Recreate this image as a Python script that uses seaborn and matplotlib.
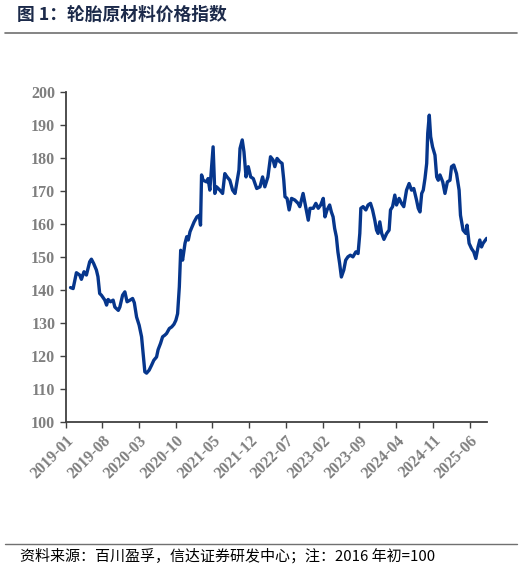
import pandas as pd
import matplotlib
matplotlib.use('Agg')
import matplotlib.pyplot as plt
import matplotlib.dates as mdates
import seaborn as sns

# 轮胎原材料价格指数 (2016年初=100)
dates = [
    '2019-01-29', '2019-02-13', '2019-03-04', '2019-03-23', '2019-04-02', '2019-04-17',
    '2019-05-01', '2019-05-20', '2019-05-30', '2019-06-12', '2019-06-28', '2019-07-07',
    '2019-07-17', '2019-07-27', '2019-08-16', '2019-08-26', '2019-09-04', '2019-09-18',
    '2019-10-03', '2019-10-13', '2019-11-02', '2019-11-11', '2019-11-27', '2019-12-10',
    '2019-12-23', '2020-01-09', '2020-01-24', '2020-02-03', '2020-02-16', '2020-03-02',
    '2020-03-16', '2020-03-25', '2020-04-04', '2020-04-14', '2020-04-29', '2020-05-13',
    '2020-05-26', '2020-06-11', '2020-06-20', '2020-07-04', '2020-07-16', '2020-07-29',
    '2020-08-08', '2020-08-24', '2020-09-07', '2020-09-20', '2020-10-01', '2020-10-11',
    '2020-10-21', '2020-10-29', '2020-11-09', '2020-11-23', '2020-12-03', '2020-12-12',
    '2020-12-22', '2021-01-15', '2021-01-31', '2021-02-14', '2021-02-21', '2021-02-27',
    '2021-03-08', '2021-03-28', '2021-04-06', '2021-04-16', '2021-05-05', '2021-05-15',
    '2021-05-25', '2021-06-13', '2021-06-29', '2021-07-12', '2021-07-25', '2021-08-10',
    '2021-08-26', '2021-09-09', '2021-10-02', '2021-10-08', '2021-10-21', '2021-10-31',
    '2021-11-12', '2021-11-25', '2021-12-09', '2021-12-24', '2022-01-13', '2022-02-01',
    '2022-02-16', '2022-03-01', '2022-03-19', '2022-04-03', '2022-04-18', '2022-04-28',
    '2022-05-11', '2022-05-27', '2022-06-09', '2022-06-19', '2022-06-26', '2022-07-08',
    '2022-07-20', '2022-08-03', '2022-08-22', '2022-09-10', '2022-09-20', '2022-10-09',
    '2022-11-08', '2022-11-18', '2022-12-07', '2022-12-22', '2023-01-05', '2023-01-19',
    '2023-02-03', '2023-02-13', '2023-02-25', '2023-03-12', '2023-03-22', '2023-04-01',
    '2023-04-10', '2023-04-20', '2023-04-29', '2023-05-09', '2023-05-19', '2023-06-02',
    '2023-06-13', '2023-06-26', '2023-07-10', '2023-07-25', '2023-08-11', '2023-08-24',
    '2023-09-03', '2023-09-09', '2023-09-22', '2023-10-08', '2023-10-21', '2023-11-04',
    '2023-11-16', '2023-11-29', '2023-12-09', '2023-12-18', '2023-12-28', '2024-01-08',
    '2024-01-21', '2024-02-06', '2024-02-20', '2024-02-28', '2024-03-11', '2024-03-24',
    '2024-04-03', '2024-04-18', '2024-05-02', '2024-05-15', '2024-05-31', '2024-06-15',
    '2024-06-29', '2024-07-12', '2024-07-28', '2024-08-07', '2024-08-17', '2024-08-27',
    '2024-09-05', '2024-09-15', '2024-09-25', '2024-10-01', '2024-10-10', '2024-10-18',
    '2024-10-29', '2024-11-12', '2024-11-22', '2024-12-01', '2024-12-11', '2024-12-27',
    '2025-01-09', '2025-01-23', '2025-02-07', '2025-02-16', '2025-03-01', '2025-03-17',
    '2025-04-01', '2025-04-09', '2025-04-24', '2025-05-10', '2025-05-17', '2025-05-29',
    '2025-06-12', '2025-06-25', '2025-07-07', '2025-07-20', '2025-07-30', '2025-08-09',
    '2025-08-18', '2025-09-08',
]
index_values = [
    140.7, 140.4, 145.2, 144.5, 143.2, 145.5,
    144.5, 148.5, 149.3, 148.0, 146.0, 144.0,
    138.9, 138.4, 136.9, 135.4, 137.1, 136.4,
    136.9, 134.8, 133.8, 134.8, 138.4, 139.4,
    136.4, 136.9, 137.4, 136.1, 131.8, 129.3,
    125.8, 120.7, 115.2, 114.8, 115.7, 117.2,
    118.7, 119.7, 121.9, 123.8, 125.8, 126.3,
    126.8, 128.3, 128.8, 129.6, 130.8, 132.8,
    140.9, 152.0, 149.0, 154.1, 156.1, 155.1,
    157.6, 160.6, 162.1, 162.6, 159.6, 174.8,
    173.2, 172.7, 173.7, 170.2, 183.3, 169.2,
    171.2, 170.2, 169.2, 175.2, 174.2, 173.2,
    170.2, 169.2, 176.3, 182.8, 185.4, 181.8,
    174.2, 177.3, 174.2, 173.7, 170.7, 171.2,
    174.2, 171.2, 174.2, 180.3, 179.3, 177.3,
    179.8, 178.8, 178.3, 173.2, 168.2, 167.7,
    164.2, 167.7, 167.2, 166.2, 165.2, 169.2,
    161.1, 164.7, 164.7, 166.2, 164.7, 165.7,
    167.7, 162.1, 164.2, 165.7, 163.6, 162.1,
    158.6, 156.1, 151.5, 148.0, 143.9, 146.0,
    149.0, 150.0, 150.5, 150.0, 151.5, 151.0,
    157.1, 164.7, 165.2, 164.2, 165.7, 166.2,
    164.2, 161.1, 158.1, 157.1, 160.6, 157.1,
    155.3, 157.1, 158.1, 164.2, 165.2, 168.7,
    165.7, 167.7, 166.2, 165.2, 170.2, 172.2,
    170.2, 170.7, 167.2, 164.7, 163.6, 169.2,
    170.2, 173.7, 178.3, 187.4, 192.9, 186.4,
    183.3, 180.8, 174.2, 173.2, 174.8, 172.7,
    169.2, 172.7, 173.2, 177.3, 177.8, 175.2,
    170.2, 162.6, 158.1, 157.1, 159.6, 154.1,
    152.5, 151.5, 149.5, 153.0, 155.1, 153.0,
    154.1, 155.6,
]
tick_months = ['2019-01', '2019-08', '2020-03', '2020-10', '2021-05', '2021-12',
               '2022-07', '2023-02', '2023-09', '2024-04', '2024-11', '2025-06']
y_ticks = [100, 110, 120, 130, 140, 150, 160, 170, 180, 190, 200]

title = '图 1：轮胎原材料价格指数'
source = '资料来源：百川盈孚，信达证券研发中心；注：2016 年初=100'

df = pd.DataFrame({'date': pd.to_datetime(dates), 'value': index_values})

sns.set_style('white')
plt.rcParams['font.family'] = ['Noto Sans CJK SC', 'DejaVu Sans']

fig = plt.figure(figsize=(5.27, 5.72), dpi=100)
ax = fig.add_axes([0.1247, 0.2622, 0.9235 - 0.1247, 0.8397 - 0.2622])

sns.lineplot(data=df, x='date', y='value', ax=ax, color='#06368c', linewidth=2.4)

ax.set_xlim(pd.Timestamp('2019-01-01'), pd.Timestamp('2025-09-08'))
ax.set_ylim(100, 200)
ax.set_yticks(y_ticks)
ax.set_xticks(pd.to_datetime(tick_months))
ax.xaxis.set_major_formatter(mdates.DateFormatter('%Y-%m'))
ax.set_xlabel('')
ax.set_ylabel('')

for s in ['top', 'right']:
    ax.spines[s].set_visible(False)
for s in ['left', 'bottom']:
    ax.spines[s].set_color('#404040')
    ax.spines[s].set_linewidth(1.3)

ax.tick_params(axis='both', direction='out', length=4, width=1.0, color='#404040',
               left=True, bottom=True)
serif = {'family': 'Liberation Serif', 'weight': 'bold', 'size': 11.5}
for lab in ax.get_yticklabels():
    lab.set_fontproperties(serif)
    lab.set_color('#7f7f7f')
for lab in ax.get_xticklabels():
    lab.set_fontproperties(serif)
    lab.set_color('#7f7f7f')
    lab.set_rotation(45)
    lab.set_ha('right')
    lab.set_rotation_mode('anchor')

# title and source with rules
fig.text(17 / 527, 1 - 15 / 572, title, fontsize=12.8, fontweight='bold',
         color='#1c2a4a', va='center', ha='left')
fig.add_artist(plt.Line2D([5 / 527, 517 / 527], [1 - 33 / 572, 1 - 33 / 572],
                          color='#707070', linewidth=1.2))
fig.add_artist(plt.Line2D([5 / 527, 517 / 527], [1 - 544 / 572, 1 - 544 / 572],
                          color='#707070', linewidth=1.0))
fig.text(20 / 527, 1 - 556 / 572, source, fontsize=10.8, color='#000000',
         va='center', ha='left', style='italic')

fig.savefig('out.png', dpi=100)
